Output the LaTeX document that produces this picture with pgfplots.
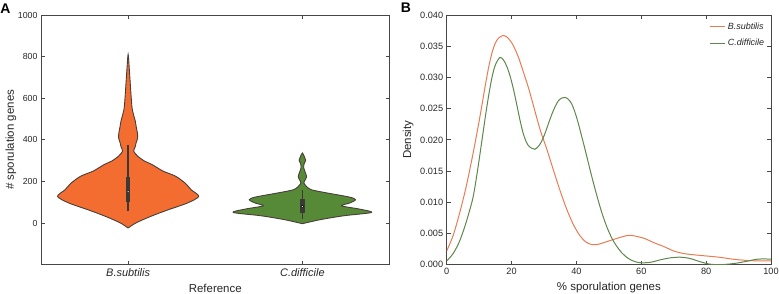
\documentclass[border=0pt]{standalone}
\usepackage{fontspec}
\setmainfont{Liberation Sans}
\usepackage{pgfplots}
\pgfplotsset{compat=1.18}
\definecolor{vorange}{RGB}{243,108,48}
\definecolor{vgreen}{RGB}{86,138,55}
\definecolor{edge}{RGB}{72,62,58}
\definecolor{boxc}{RGB}{60,56,54}
\definecolor{lorange}{RGB}{230,125,85}
\definecolor{lgreen}{RGB}{95,135,75}
\definecolor{spine}{RGB}{70,70,70}
\begin{document}
\begin{tikzpicture}
\path[use as bounding box] (0,0) rectangle (779bp,294bp);
\pgfplotsset{
 myaxis/.style={
  scale only axis, anchor=south west,
  axis line style={spine, line width=0.8bp},
  tick style={spine, line width=0.7bp},
  tick align=inside,
  major tick length=4bp,
  tick label style={font=\fontsize{8.8}{10}\selectfont, text=black!85},
  /pgf/number format/assume math mode=true,
  /pgf/number format/1000 sep={},
  label style={font=\fontsize{11.5}{13}\selectfont, text=black!85},
 }
}
\begin{axis}[myaxis, at={(41bp,29.3bp)}, width=348.5bp, height=249.7bp,
 xmin=-0.5, xmax=1.5, ymin=-200, ymax=1000,
 xtick={0,1}, xticklabels={\textit{B.subtilis},\textit{C.difficile}},
 x tick label style={font=\fontsize{11}{13}\selectfont},
 ytick={0,200,400,600,800,1000},
 ylabel={\# sporulation genes}, xlabel={Reference},
 ylabel style={at={(axis description cs:-0.086,0.5)}, anchor=center},
 xlabel style={at={(axis description cs:0.5,-0.096)}, anchor=center},
]
\addplot[fill=vorange, draw=edge, line width=0.9bp, smooth, tension=0.5] coordinates {
(0,-24) (0.043,0) (0.129,32) (0.23,64) (0.339,96) (0.405,128) (0.362,160) (0.33,190) (0.273,225) (0.2,250) (0.138,281) (0.09,300) (0.056,321) (0.032,345) (0.04,365) (0.046,386) (0.055,410) (0.053,434) (0.047,460) (0.041,490) (0.024,546) (0.018,600) (0.012,675) (0.006,750) (0,811) (-0.006,750) (-0.012,675) (-0.018,600) (-0.024,546) (-0.041,490) (-0.047,460) (-0.053,434) (-0.055,410) (-0.046,386) (-0.04,365) (-0.032,345) (-0.056,321) (-0.09,300) (-0.138,281) (-0.2,250) (-0.273,225) (-0.33,190) (-0.362,160) (-0.405,128) (-0.339,96) (-0.23,64) (-0.129,32) (-0.043,0) (0,-24)};
\addplot[fill=vgreen, draw=edge, line width=0.9bp, smooth, tension=0.5] coordinates {
(1,-3) (1.1,16) (1.236,35) (1.397,51) (1.33,67) (1.225,83) (1.27,96) (1.305,112) (1.27,125) (1.14,145) (1.052,160) (1.025,175) (1.008,193) (1.014,205) (1.024,222) (1.018,240) (1.008,265) (1.01,285) (1.019,302) (1.012,318) (1,337) (0.988,318) (0.981,302) (0.99,285) (0.992,265) (0.982,240) (0.976,222) (0.986,205) (0.992,193) (0.975,175) (0.948,160) (0.86,145) (0.73,125) (0.695,112) (0.73,96) (0.775,83) (0.67,67) (0.603,51) (0.764,35) (0.9,16) (1,-3)};
% box plots
\addplot[boxc, line width=1.4bp] coordinates {(0,56) (0,377)};
\addplot[boxc, line width=4.5bp] coordinates {(0,99) (0,222)};
\addplot[only marks, mark=*, mark size=1.3bp, mark options={fill=white, draw=none}] coordinates {(0,151)};
\addplot[boxc, line width=1.4bp] coordinates {(1,19) (1,157)};
\addplot[boxc, line width=4.5bp] coordinates {(1,48) (1,116)};
\addplot[only marks, mark=*, mark size=1.3bp, mark options={fill=white, draw=none}] coordinates {(1,80)};
\end{axis}

\begin{axis}[myaxis, at={(446.7bp,29.3bp)}, width=324.3bp, height=249.7bp,
 xmin=0, xmax=100, ymin=0, ymax=0.04,
 tick label style={font=\fontsize{9.2}{10}\selectfont},
 xtick={0,20,40,60,80,100},
 ytick={0,0.005,0.01,0.015,0.02,0.025,0.03,0.035,0.04},
 scaled y ticks=false,
 yticklabel style={/pgf/number format/.cd, fixed, fixed zerofill, precision=3},
 ylabel={Density}, xlabel={\% sporulation genes},
 ylabel style={at={(axis description cs:-0.119,0.5)}, anchor=center},
 xlabel style={at={(axis description cs:0.5,-0.091)}, anchor=center},
 legend style={at={(0.995,0.985)}, anchor=north east, draw=none, fill=none,
   font=\itshape\fontsize{9}{10}\selectfont, text=black!85, row sep=4.5bp},
 legend cell align=left,
 legend image code/.code={\draw[#1, line width=1.1bp] (0,0) -- (15bp,0);},
]
\addplot[lorange, line width=1bp, smooth] coordinates {
(0,0.0022) (2,0.0047) (4,0.0083) (6,0.0125) (8,0.0175) (10,0.0230) (12,0.0290) (13,0.0318) (14,0.0340) (15,0.0355) (16,0.0363) (17.3,0.0367) (18.5,0.0365) (20,0.0356) (21,0.0346) (22,0.0334) (23,0.0319) (24,0.0303) (25,0.0287) (26,0.0269) (27,0.0250) (28,0.0231) (29,0.0213) (30,0.0198) (31,0.0183) (33,0.0150) (35,0.0118) (37,0.0089) (39,0.0065) (41,0.0047) (43,0.0036) (45,0.0032) (47,0.0033) (50,0.0038) (53,0.0043) (56,0.0047) (58,0.0046) (61,0.0042) (64,0.0035) (67,0.0029) (70,0.0022) (73,0.0018) (76,0.0016) (80,0.0014) (84,0.0012) (88,0.0009) (92,0.0007) (96,0.0006) (100,0.0006)};
\addlegendentry{B.subtilis}
\addplot[lgreen, line width=1bp, smooth] coordinates {
(0,0.0006) (2,0.0018) (4,0.0038) (6,0.0068) (8,0.0105) (9,0.0134) (10,0.0168) (11,0.0204) (12,0.0240) (13,0.0273) (14,0.0301) (15,0.0320) (16.4,0.0332) (17.5,0.0328) (18.5,0.0318) (19.5,0.0303) (20.5,0.0283) (21.5,0.0259) (22.5,0.0234) (23.5,0.0212) (24.5,0.0197) (25.5,0.0189) (27.2,0.0185) (28.5,0.0191) (29.5,0.0200) (30.5,0.0213) (31.5,0.0228) (32.5,0.0242) (33.5,0.0254) (34.5,0.0263) (35.5,0.0267) (36.5,0.0268) (37.5,0.0265) (38.5,0.0258) (39.5,0.0245) (40.5,0.0228) (41.5,0.0208) (42.5,0.0188) (43.5,0.0167) (44.5,0.0146) (45.5,0.0126) (46.5,0.0107) (47.5,0.0089) (48.5,0.0073) (49.5,0.0059) (50.5,0.0047) (51.5,0.0037) (52.5,0.0029) (54,0.0019) (56,0.0010) (58,0.0005) (60,0.0003) (63,0.0004) (66,0.0008) (69,0.0011) (72,0.0012) (75,0.0010) (78,0.0005) (81,0.0001) (84,0.0000) (87,0.0001) (90,0.0003) (93,0.0006) (96,0.0009) (100,0.0009)};
\addlegendentry{C.difficile}
\end{axis}
\node[font=\bfseries\fontsize{14}{16}\selectfont, inner sep=0pt] at (5.5bp,285.7bp) {A};
\node[font=\bfseries\fontsize{14}{16}\selectfont, inner sep=0pt] at (406bp,286bp) {B};
\end{tikzpicture}
\end{document}
